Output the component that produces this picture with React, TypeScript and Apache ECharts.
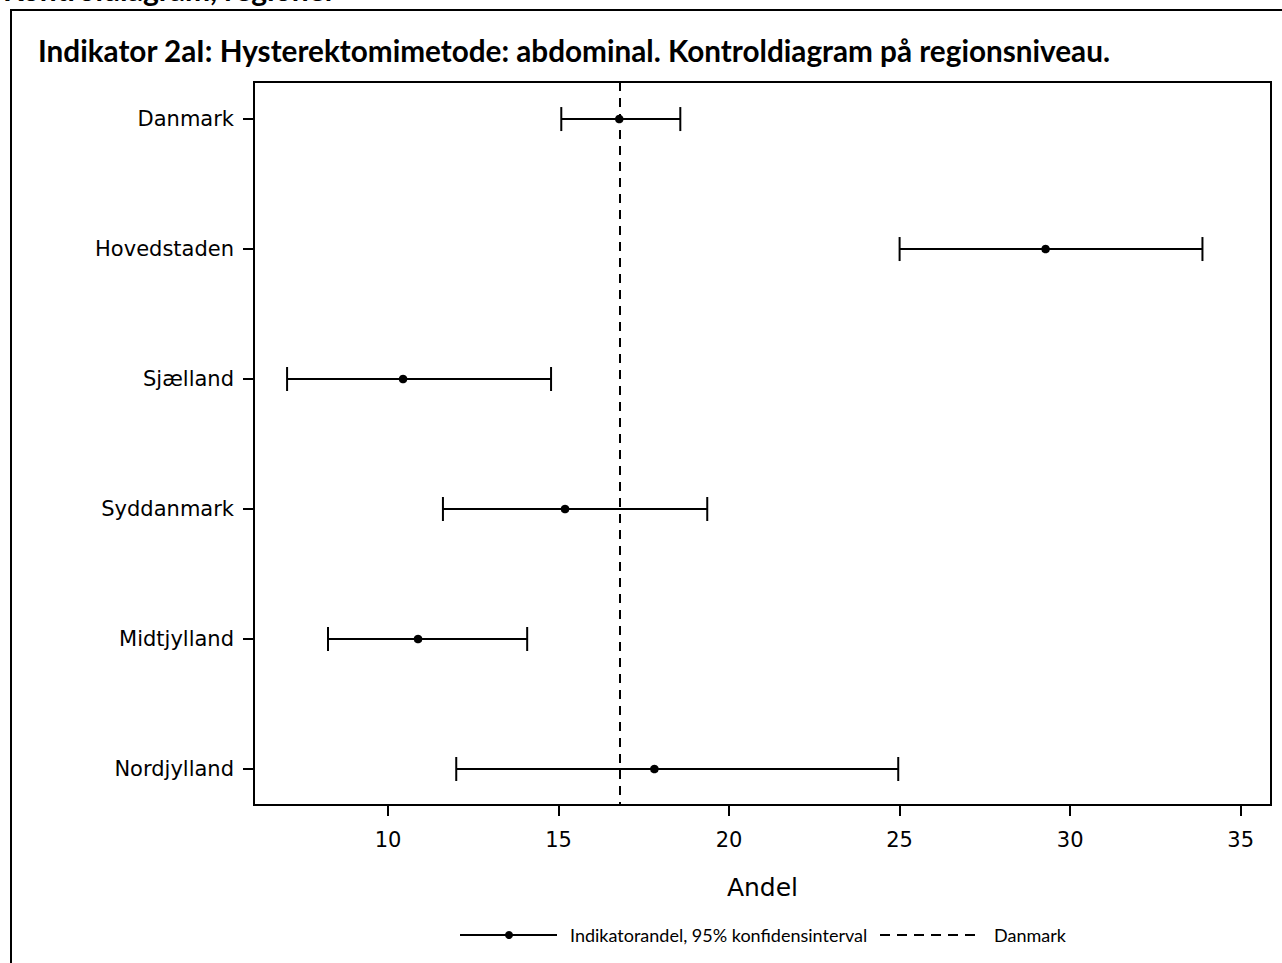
import React, { useEffect, useRef } from "react";
import * as echarts from "echarts";

const categories = ["Danmark", "Hovedstaden", "Sjælland", "Syddanmark", "Midtjylland", "Nordjylland"];
const estimates = [16.78, 29.28, 10.44, 15.19, 10.88, 17.81];
const lowerCI = [15.08, 25.0, 7.04, 11.61, 8.24, 12.0];
const upperCI = [18.57, 33.88, 14.78, 19.36, 14.08, 24.96];
const danmarkRef = 16.78;
const xTicks = [10, 15, 20, 25, 30, 35];
const yTicks = [0, 1, 2, 3, 4, 5];

const titleText = "Indikator 2aI: Hysterektomimetode: abdominal. Kontroldiagram på regionsniveau.";
const pageTitle = "Kontroldiagram, regioner";
const xName = "Andel";
const legendMain = "Indikatorandel, 95% konfidensinterval";
const legendRef = "Danmark";

export default function App() {
  const ref = useRef<HTMLDivElement>(null);
  useEffect(() => {
    if (!ref.current) return;
    const chart = echarts.init(ref.current, undefined, { renderer: "svg" });
    const data = categories.map((c, i) => [estimates[i], i, lowerCI[i], upperCI[i]]);
    const axisFont = "DejaVu Sans";
    chart.setOption({
      animation: false,
      backgroundColor: "#ffffff",
      grid: {
        left: 254,
        right: 11,
        top: 82,
        bottom: 158,
        show: true,
        borderColor: "#000",
        borderWidth: 2,
        backgroundColor: "transparent",
      },
      xAxis: {
        type: "value",
        min: 6.07,
        max: 35.89,
        splitLine: { show: false },
        axisLine: { show: true, onZero: false, lineStyle: { color: "#000", width: 2 } },
        axisTick: { show: true, customValues: xTicks, length: 11, lineStyle: { color: "#000", width: 2 } },
        axisLabel: {
          customValues: xTicks,
          color: "#000",
          fontFamily: axisFont,
          fontSize: 21,
          margin: 24,
        },
        name: xName,
        nameLocation: "middle",
        nameGap: 70,
        nameTextStyle: { color: "#000", fontFamily: axisFont, fontSize: 25 },
      },
      yAxis: {
        type: "value",
        inverse: true,
        min: -0.285,
        max: 5.277,
        splitLine: { show: false },
        axisLine: { show: true, onZero: false, lineStyle: { color: "#000", width: 2 } },
        axisTick: { show: true, customValues: yTicks, length: 11, lineStyle: { color: "#000", width: 2 } },
        axisLabel: {
          customValues: yTicks,
          color: "#000",
          fontFamily: axisFont,
          fontSize: 21,
          margin: 20,
          formatter: (v: number) => categories[Math.round(v)] ?? "",
        },
      },
      series: [
        {
          type: "custom",
          name: legendMain,
          data,
          encode: { x: [0, 2, 3], y: 1 },
          renderItem: (params: any, api: any) => {
            const est = api.value(0);
            const idx = api.value(1);
            const lo = api.value(2);
            const hi = api.value(3);
            const pLo = api.coord([lo, idx]);
            const pHi = api.coord([hi, idx]);
            const pEst = api.coord([est, idx]);
            const cap = 12;
            const st = { stroke: "#000", lineWidth: 2 };
            return {
              type: "group",
              children: [
                { type: "line", shape: { x1: pLo[0], y1: pLo[1], x2: pHi[0], y2: pHi[1] }, style: st },
                { type: "line", shape: { x1: pLo[0], y1: pLo[1] - cap, x2: pLo[0], y2: pLo[1] + cap }, style: st },
                { type: "line", shape: { x1: pHi[0], y1: pHi[1] - cap, x2: pHi[0], y2: pHi[1] + cap }, style: st },
                { type: "circle", shape: { cx: pEst[0], cy: pEst[1], r: 4.3 }, style: { fill: "#000" } },
              ],
            };
          },
          markLine: {
            silent: true,
            symbol: "none",
            label: { show: false },
            lineStyle: { color: "#000", width: 2, type: [9, 7] },
            data: [{ xAxis: danmarkRef }],
          },
          z: 3,
        },
      ],
      graphic: [
        {
          type: "rect",
          shape: { x: 11, y: 10, width: 1300, height: 1000 },
          style: { fill: "none", stroke: "#000", lineWidth: 2 },
          silent: true,
        },
        {
          type: "text",
          x: 3,
          y: -11,
          style: {
            text: pageTitle,
            fill: "#000",
            font: "bold 30px Lato",
            textVerticalAlign: "middle",
          },
        },
        {
          type: "text",
          x: 38,
          y: 50,
          style: {
            text: titleText,
            fill: "#000",
            font: "bold 29.7px Lato",
            textVerticalAlign: "middle",
          },
        },
        { type: "line", shape: { x1: 460, y1: 935, x2: 557, y2: 935 }, style: { stroke: "#000", lineWidth: 2 } },
        { type: "circle", shape: { cx: 509, cy: 935, r: 4 }, style: { fill: "#000" } },
        {
          type: "text",
          x: 570,
          y: 935,
          style: { text: legendMain, fill: "#000", font: "18px Lato", textVerticalAlign: "middle" },
        },
        {
          type: "line",
          shape: { x1: 880, y1: 935, x2: 977, y2: 935 },
          style: { stroke: "#000", lineWidth: 2, lineDash: [10, 7] },
        },
        {
          type: "text",
          x: 994,
          y: 935,
          style: { text: legendRef, fill: "#000", font: "18px Lato", textVerticalAlign: "middle" },
        },
      ],
    });
    return () => chart.dispose();
  }, []);
  return (
    <div
      ref={ref}
      style={{ position: "absolute", left: 0, top: 0, width: 1282, height: 963 }}
    />
  );
}
